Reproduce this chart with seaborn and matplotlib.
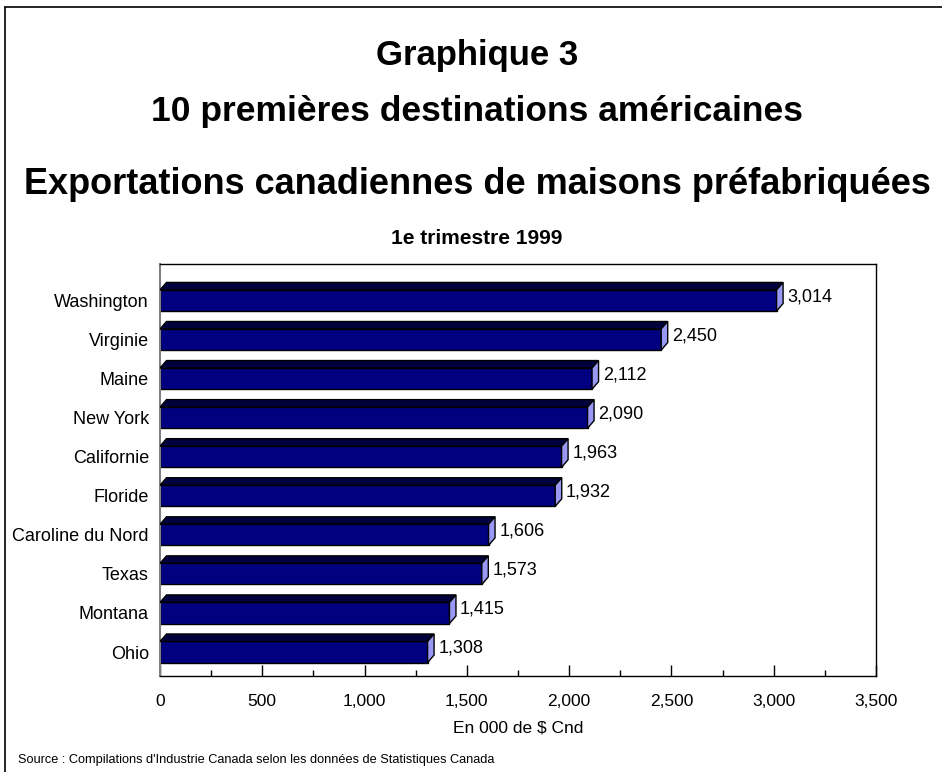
import matplotlib
matplotlib.use("Agg")
import matplotlib.pyplot as plt
import seaborn as sns
import pandas as pd
from matplotlib.patches import Polygon
from matplotlib.lines import Line2D
from matplotlib.ticker import MultipleLocator, FuncFormatter

states = ["Washington", "Virginie", "Maine", "New York", "Californie",
          "Floride", "Caroline du Nord", "Texas", "Montana", "Ohio"]
values = [3014, 2450, 2112, 2090, 1963, 1932, 1606, 1573, 1415, 1308]

title_lines = ["Graphique 3", "10 premières destinations américaines",
               "Exportations canadiennes de maisons préfabriquées"]
subtitle = "1e trimestre 1999"
xlabel = "En 000 de $ Cnd"
source = "Source : Compilations d'Industrie Canada selon les données de Statistiques Canada"

sns.set_theme(style="white")
plt.rcParams['font.family'] = ['Liberation Sans', 'DejaVu Sans']
plt.rcParams['text.color'] = 'black'
plt.rcParams['axes.labelcolor'] = 'black'
plt.rcParams['xtick.color'] = 'black'
plt.rcParams['ytick.color'] = 'black'

df = pd.DataFrame({"state": states, "value": values})

fig = plt.figure(figsize=(9.42, 7.72), dpi=100)
ax = fig.add_axes([160/942, 1-676/772, (876-160)/942, (676-264)/772])

front = "#000080"
topc = "#00003C"
sidec = "#9999F5"

sns.barplot(data=df, x="value", y="state", orient="h", color=front,
            edgecolor="black", linewidth=1.0, width=0.54, saturation=1, ax=ax)

ax.set_xlim(0, 3500)
ax.set_ylim(9.614, -0.934)

# 3D depth offsets in data units
dx = 6.5 / (716/3500)
dy = 7.5 / ((676-264)/(9.614+0.934))

for p in ax.patches[:len(values)]:
    x0, y0 = p.get_x(), p.get_y()
    w, h = p.get_width(), p.get_height()
    ytop = y0
    ybot = y0 + h
    top = Polygon([(x0, ytop), (x0+dx, ytop-dy), (x0+w+dx, ytop-dy), (x0+w, ytop)],
                  closed=True, facecolor=topc, edgecolor="black", linewidth=1.0, zorder=3)
    side = Polygon([(x0+w, ytop), (x0+w+dx, ytop-dy), (x0+w+dx, ybot-dy), (x0+w, ybot)],
                   closed=True, facecolor=sidec, edgecolor="black", linewidth=1.0, zorder=3)
    ax.add_patch(top)
    ax.add_patch(side)
    ax.text(x0+w+dx+20, (ytop+ybot)/2 - dy/2, f"{int(w):,}", fontsize=13,
            va="center", ha="left", color="black")

ax.xaxis.set_major_locator(MultipleLocator(500))
ax.xaxis.set_minor_locator(MultipleLocator(250))
ax.xaxis.set_major_formatter(FuncFormatter(lambda v, pos: f"{int(v):,}"))
ax.tick_params(axis="x", which="major", direction="in", length=8, width=1,
               color="black", labelsize=12.5, pad=13, bottom=True)
ax.tick_params(axis="x", which="minor", direction="in", length=4, width=1,
               color="black", bottom=True)
ax.tick_params(axis="y", direction="in", length=7, width=1, color="black",
               labelsize=13, pad=8, left=True)

ax.set_ylabel("")
ax.set_xlabel(xlabel, fontsize=12.5, labelpad=8)

for s in ["top", "right", "bottom"]:
    ax.spines[s].set_visible(True)
    ax.spines[s].set_color("black")
    ax.spines[s].set_linewidth(1.0)
ax.spines["left"].set_color("#808080")
ax.spines["left"].set_linewidth(1.5)

cx = 477/942
fig.text(cx, 1-55/772, title_lines[0], ha="center", va="center", fontsize=25, fontweight="bold")
fig.text(cx, 1-112/772, title_lines[1], ha="center", va="center", fontsize=25.5, fontweight="bold")
fig.text(cx, 1-185/772, title_lines[2], ha="center", va="center", fontsize=26, fontweight="bold")
fig.text(cx, 1-238/772, subtitle, ha="center", va="center", fontsize=15, fontweight="bold")
fig.text(18/942, 1-760/772, source, ha="left", va="center", fontsize=9.2)

# figure frame
fig.add_artist(Line2D([5/942, 5/942], [0, 1-7/772], transform=fig.transFigure,
                      color="black", linewidth=1.2))
fig.add_artist(Line2D([5/942, 1], [1-7/772, 1-7/772], transform=fig.transFigure,
                      color="black", linewidth=1.2))

fig.savefig("out.png", dpi=100)
